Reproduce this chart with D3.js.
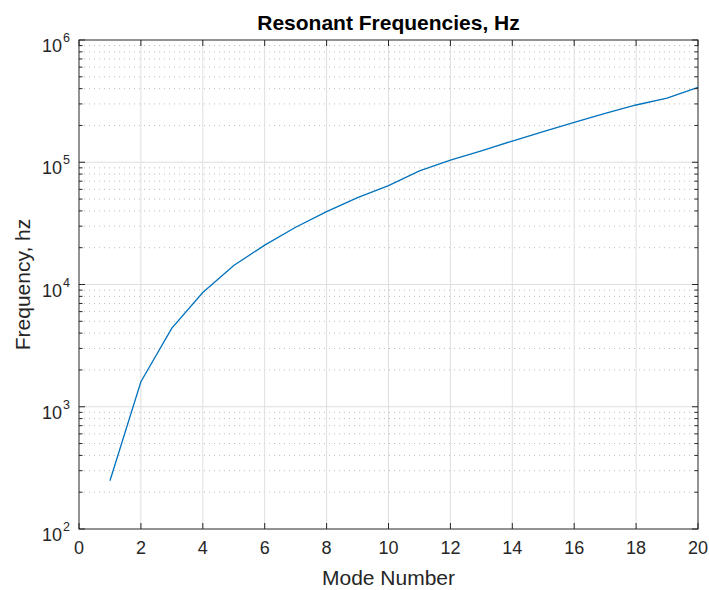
<!DOCTYPE html>
<html>
<head>
<meta charset="utf-8">
<script src="https://cdn.jsdelivr.net/npm/d3@7"></script>
<style>
  body { margin: 0; background: #fff; }
  svg { display: block; }
  text { font-family: "Liberation Sans", Arial, Helvetica, sans-serif; fill: #262626; }
</style>
</head>
<body>
<svg width="709" height="590"></svg>
<script>
// mode number and resonant frequency (Hz)
var modes = [1, 2, 3, 4, 5, 6, 7, 8, 9, 10, 11, 12, 13, 14, 15, 16, 17, 18, 19, 20];
var freqs = [248, 1600, 4400, 8600, 14300, 21000, 29400, 39500, 51300, 64500,
             85000, 104000, 124000, 149000, 178000, 212000, 251000, 294000, 334000, 410000];

var xTicks = [0, 2, 4, 6, 8, 10, 12, 14, 16, 18, 20];
var yDecades = [2, 3, 4, 5, 6];

var svg = d3.select("svg");
// plot box edges (window.top is reserved, so no plain "top")
var pL = 79, pR = 698, pT = 40, pB = 529;

var x = d3.scaleLinear().domain([0, 20]).range([pL, pR]);
var y = d3.scaleLog().domain([1e2, 1e6]).range([pB, pT]);

// minor values on the log axis (2..9 in every decade)
var minors = [];
yDecades.slice(0, -1).forEach(function(e) {
    for (var k = 2; k <= 9; k++) minors.push(k * Math.pow(10, e));
});

var grid = svg.append("g");

// minor grid, dotted
grid.selectAll("line.minor")
    .data(minors)
    .enter().append("line")
    .attr("x1", pL).attr("x2", pR)
    .attr("y1", function(d) { return y(d); })
    .attr("y2", function(d) { return y(d); })
    .attr("stroke", "#bdbdbd")
    .attr("stroke-width", 1)
    .attr("stroke-dasharray", "1,4");

// major grid
grid.selectAll("line.gx")
    .data(xTicks.slice(1, -1))
    .enter().append("line")
    .attr("x1", function(d) { return x(d); })
    .attr("x2", function(d) { return x(d); })
    .attr("y1", pT).attr("y2", pB)
    .attr("stroke", "#dedede");

grid.selectAll("line.gy")
    .data(yDecades.slice(1, -1))
    .enter().append("line")
    .attr("x1", pL).attr("x2", pR)
    .attr("y1", function(d) { return y(Math.pow(10, d)); })
    .attr("y2", function(d) { return y(Math.pow(10, d)); })
    .attr("stroke", "#dedede");

// data line
var line = d3.line()
    .x(function(d, i) { return x(modes[i]); })
    .y(function(d) { return y(d); });

svg.append("path")
    .datum(freqs)
    .attr("d", line)
    .attr("fill", "none")
    .attr("stroke", "#0072BD")
    .attr("stroke-width", 1.3);

// box
svg.append("rect")
    .attr("x", pL).attr("y", pT)
    .attr("width", pR - pL).attr("height", pB - pT)
    .attr("fill", "none")
    .attr("stroke", "#262626")
    .attr("stroke-width", 1);

// ticks pointing inward on all four sides
var ticks = svg.append("g").attr("stroke", "#262626").attr("stroke-width", 1);
xTicks.forEach(function(d) {
    ticks.append("line").attr("x1", x(d)).attr("x2", x(d)).attr("y1", pB).attr("y2", pB - 6);
    ticks.append("line").attr("x1", x(d)).attr("x2", x(d)).attr("y1", pT).attr("y2", pT + 6);
});
yDecades.forEach(function(e) {
    var v = y(Math.pow(10, e));
    ticks.append("line").attr("x1", pL).attr("x2", pL + 6).attr("y1", v).attr("y2", v);
    ticks.append("line").attr("x1", pR).attr("x2", pR - 6).attr("y1", v).attr("y2", v);
});
minors.forEach(function(d) {
    ticks.append("line").attr("x1", pL).attr("x2", pL + 3.5).attr("y1", y(d)).attr("y2", y(d));
    ticks.append("line").attr("x1", pR).attr("x2", pR - 3.5).attr("y1", y(d)).attr("y2", y(d));
});

// x tick labels
svg.append("g").selectAll("text")
    .data(xTicks)
    .enter().append("text")
    .attr("x", function(d) { return x(d); })
    .attr("y", 554)
    .attr("text-anchor", "middle")
    .style("font-size", "18px")
    .text(function(d) { return d; });

// y tick labels 10^n
var yl = svg.append("g").selectAll("g")
    .data(yDecades)
    .enter().append("g")
    .attr("transform", function(d) { return "translate(0," + y(Math.pow(10, d)) + ")"; });
yl.append("text")
    .attr("x", 62).attr("y", 12)
    .attr("text-anchor", "end")
    .style("font-size", "18px")
    .text("10");
yl.append("text")
    .attr("x", 63).attr("y", 2)
    .style("font-size", "12.5px")
    .text(function(d) { return d; });

// labels
svg.append("text")
    .attr("x", (pL + pR) / 2).attr("y", 585)
    .attr("text-anchor", "middle")
    .style("font-size", "21px")
    .text("Mode Number");

svg.append("text")
    .attr("transform", "translate(30," + ((pT + pB) / 2) + ") rotate(-90)")
    .attr("text-anchor", "middle")
    .style("font-size", "21px")
    .text("Frequency, hz");

svg.append("text")
    .attr("x", (pL + pR) / 2).attr("y", 30)
    .attr("text-anchor", "middle")
    .style("font-size", "21px")
    .style("font-weight", "bold")
    .style("fill", "#000")
    .text("Resonant Frequencies, Hz");
</script>
</body>
</html>
